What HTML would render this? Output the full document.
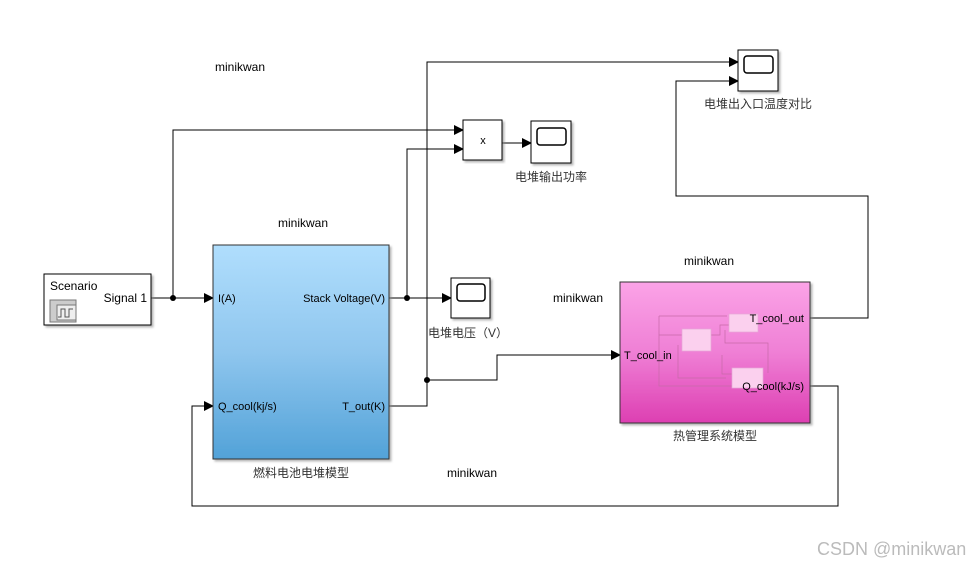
<!DOCTYPE html>
<html><head><meta charset="utf-8"><style>
body{margin:0;width:970px;height:566px;background:#fff;overflow:hidden;font-family:"Liberation Sans","Noto Sans CJK SC",sans-serif}
svg{position:absolute;left:0;top:0}
</style></head><body>
<svg width="970" height="566" viewBox="0 0 970 566" font-family="Liberation Sans, Noto Sans CJK SC, sans-serif">
<defs>
<linearGradient id="blue" x1="0" y1="0" x2="0" y2="1"><stop offset="0" stop-color="#b0defd"/><stop offset="0.5" stop-color="#8fc6ee"/><stop offset="1" stop-color="#52a2d8"/></linearGradient>
<linearGradient id="pink" x1="0" y1="0" x2="0" y2="1"><stop offset="0" stop-color="#fba3e7"/><stop offset="0.5" stop-color="#ef7fd5"/><stop offset="1" stop-color="#dd3fb2"/></linearGradient>
<marker id="a" markerWidth="10" markerHeight="10" refX="9" refY="5" orient="auto" markerUnits="userSpaceOnUse"><path d="M0,0 L10,5 L0,10z" fill="#000"/></marker>
<filter id="sh"><feDropShadow dx="2" dy="2" stdDeviation="1" flood-color="#888" flood-opacity="0.6"/></filter>
</defs>
<g fill="none" stroke="#000" stroke-width="1">
<polyline points="151,298 213,298" marker-end="url(#a)"/>
<polyline points="173,298 173,130 463,130" marker-end="url(#a)"/>
<polyline points="389,298 451,298" marker-end="url(#a)"/>
<polyline points="407,298 407,149 463,149" marker-end="url(#a)"/>
<polyline points="502,143 531,143" marker-end="url(#a)"/>
<polyline points="389,406 427,406 427,62 738,62" marker-end="url(#a)"/>
<polyline points="427,380 497,380 497,355 620,355" marker-end="url(#a)"/>
<polyline points="810,318 868,318 868,196 676,196 676,81 738,81" marker-end="url(#a)"/>
<polyline points="810,386 838,386 838,506 192,506 192,406 213,406" marker-end="url(#a)"/>
</g>
<g fill="#000"><circle cx="173" cy="298" r="3"/><circle cx="407" cy="298" r="3"/><circle cx="427" cy="380" r="3"/></g>
<rect x="44" y="274" width="107" height="51" fill="#fff" stroke="#000" filter="url(#sh)"/>
<text x="50" y="290" font-size="12">Scenario</text>
<text x="147" y="302" font-size="12" text-anchor="end">Signal 1</text>
<rect x="50" y="300" width="26" height="22" fill="#ccc" stroke="#777"/>
<rect x="57" y="305" width="19" height="15" fill="#eee" stroke="#777"/>
<polyline points="58,317 61,317 61,309 65,309 65,317 69,317 69,309 73,309" fill="none" stroke="#555"/>
<rect x="213" y="245" width="176" height="214" fill="url(#blue)" stroke="#333" filter="url(#sh)"/>
<g font-size="11"><text x="218" y="302">I(A)</text><text x="218" y="410">Q_cool(kj/s)</text>
<text x="385" y="302" text-anchor="end">Stack Voltage(V)</text><text x="385" y="410" text-anchor="end">T_out(K)</text></g>
<text x="301" y="477" font-size="12" text-anchor="middle" fill="#333">燃料电池电堆模型</text>
<rect x="463" y="120" width="39" height="40" fill="#fff" stroke="#000" filter="url(#sh)"/>
<text x="483" y="144" font-size="11" text-anchor="middle">x</text>
<g filter="url(#sh)">
<rect x="531" y="121" width="40" height="42" fill="#fff" stroke="#000"/>
<rect x="738" y="50" width="40" height="41" fill="#fff" stroke="#000"/>
<rect x="451" y="278" width="39" height="40" fill="#fff" stroke="#000"/>
</g>
<g fill="none" stroke="#000" stroke-width="1.5">
<rect x="537" y="128" width="29" height="17" rx="3"/>
<rect x="744" y="56" width="29" height="17" rx="3"/>
<rect x="457" y="284" width="28" height="17" rx="3"/>
</g>
<g font-size="12" fill="#333" text-anchor="middle">
<text x="551" y="181">电堆输出功率</text>
<text x="758" y="108">电堆出入口温度对比</text>
<text x="468" y="337">电堆电压（V）</text>
<text x="715" y="440">热管理系统模型</text>
</g>
<rect x="620" y="282" width="190" height="141" fill="url(#pink)" stroke="#333" filter="url(#sh)"/>
<g fill="none" stroke="#c76aa8" stroke-width="0.7">
<polyline points="659,316 727,316"/><polyline points="659,316 659,386 740,386"/>
<polyline points="659,335 682,335"/><polyline points="711,335 720,335 720,325 729,325"/>
<polyline points="678,345 678,378 726,378"/><polyline points="725,330 725,343 768,343 768,373"/>
<polyline points="722,355 722,374 757,374"/>
</g>
<g fill="#fbd0ee" stroke="#e6a6d6" stroke-width="0.7">
<rect x="682" y="329" width="29" height="22"/><rect x="729" y="314" width="29" height="18"/><rect x="732" y="368" width="31" height="20"/>
</g>
<g font-size="11"><text x="624" y="359">T_cool_in</text><text x="804" y="322" text-anchor="end">T_cool_out</text><text x="804" y="390" text-anchor="end">Q_cool(kJ/s)</text></g>
<g font-size="12"><text x="215" y="71">minikwan</text><text x="278" y="227">minikwan</text><text x="553" y="302">minikwan</text><text x="684" y="265">minikwan</text><text x="447" y="477">minikwan</text></g>
<text x="817" y="555" font-size="18" fill="#bbb">CSDN @minikwan</text>
</svg>
</body></html>
